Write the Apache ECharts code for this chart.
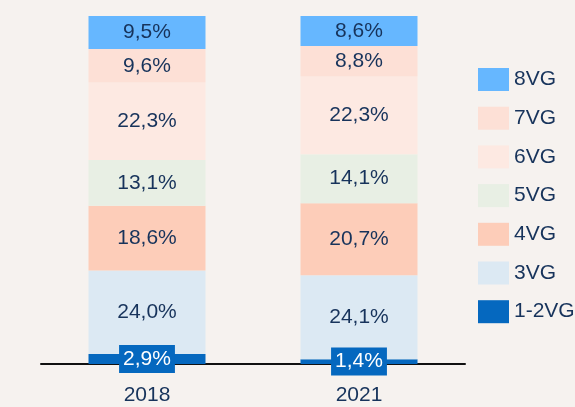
<!DOCTYPE html>
<html><head><meta charset="utf-8">
<script src="https://cdn.jsdelivr.net/npm/echarts@6/dist/echarts.min.js"></script>
<style>html,body{margin:0;padding:0;background:#f6f2ef}#c{width:575px;height:407px}</style>
</head><body><div id="c"></div>
<script>
const categories = ['2018', '2021'];
const seriesNames = ['1-2VG', '3VG', '4VG', '5VG', '6VG', '7VG', '8VG'];
const v12 = [2.9, 1.4];
const v3 = [24.0, 24.1];
const v4 = [18.6, 20.7];
const v5 = [13.1, 14.1];
const v6 = [22.3, 22.3];
const v7 = [9.6, 8.8];
const v8 = [9.5, 8.6];
const colors = ['#0568bf', '#dce9f3', '#fdcdb9', '#e8efe4', '#fde9e2', '#fde0d6', '#66b7ff'];
const values = [v12, v3, v4, v5, v6, v7, v8];
const fmt = p => p.value.toFixed(1).replace('.', ',') + '%';
const FONT = 'Liberation Sans';
const series = seriesNames.map((n, i) => ({
  name: n, type: 'bar', stack: 'a', barWidth: 117,
  data: values[i],
  itemStyle: { color: colors[i] },
  label: i === 0 ? {
    show: true, position: 'inside', formatter: fmt, color: '#ffffff',
    fontSize: 21, fontFamily: FONT, backgroundColor: '#0568bf',
    padding: [4, 4, 3, 4]
  } : {
    show: true, position: 'inside', formatter: fmt, color: '#17335b',
    fontSize: 21, fontFamily: FONT
  },
  emphasis: { disabled: true }
}));
const chart = echarts.init(document.getElementById('c'));
chart.setOption({
  backgroundColor: '#f6f2ef',
  animation: false,
  grid: { left: 41, right: 110, top: 16, bottom: 43 },
  xAxis: {
    type: 'category', data: categories,
    axisLine: { lineStyle: { color: '#111', width: 2 } },
    axisTick: { show: false },
    axisLabel: { color: '#17335b', fontSize: 21, fontFamily: FONT, margin: 21 }
  },
  yAxis: { type: 'value', min: 0, max: 100, show: false, splitLine: { show: false } },
  legend: {
    orient: 'vertical', left: 473, top: 63,
    itemWidth: 31, itemHeight: 23, itemGap: 15.7,
    data: seriesNames.slice().reverse(),
    icon: 'rect',
    textStyle: { color: '#17335b', fontSize: 21, fontFamily: FONT }
  },
  series: series
});
</script></body></html>
